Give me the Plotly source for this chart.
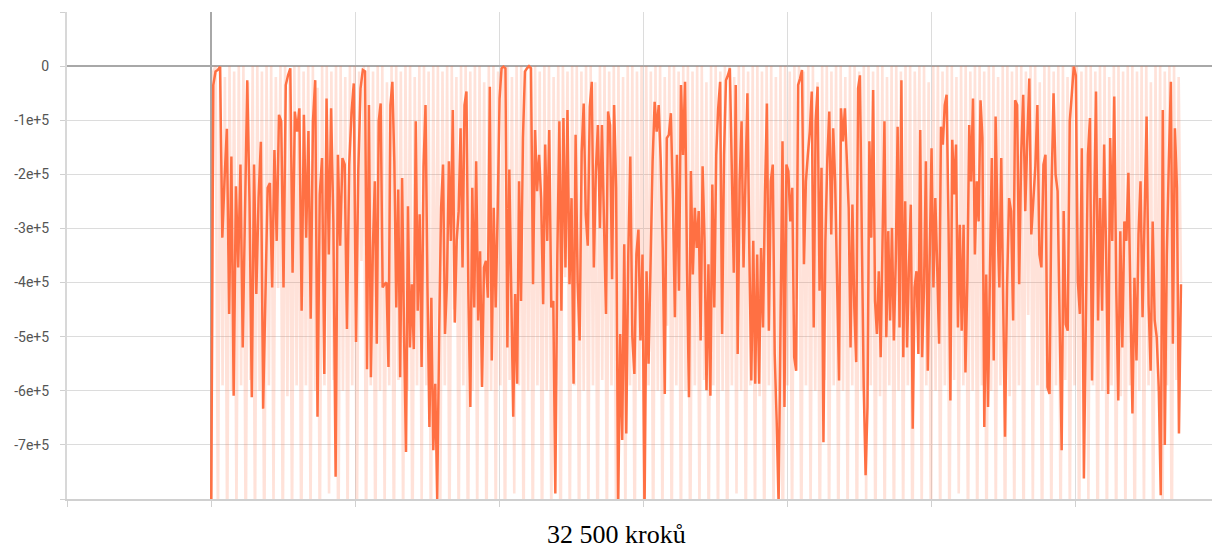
import numpy as np
import plotly.graph_objects as go

# Values in units of 1e5 (reward)
# Smoothed line, split in six consecutive step ranges
segment_edges = [0, 5350, 10900, 16460, 22010, 27570, 33680]

smooth_r1 = [-9.0, -0.35, -0.1, -0.07, -0.01, -3.17, -2.07, -1.16, -4.58, -1.67, -6.09, -2.22, -3.72, -1.82, -5.2,
             -2.25, -0.26, -2.5, -6.12, -1.82, -4.21, -2.44, -1.4, -6.33, -4.2, -2.25, -2.16, -4.09, -1.55, -3.23,
             -0.9, -1.02, -4.09, -0.35, -0.17, -0.04, -3.82, -0.84, -1.21, -0.78, -4.52, -0.9, -3.17, -1.2, -4.67,
             -1.02, -0.26, -6.48, -2.37, -1.7, -5.69, -0.6, -3.48, -0.78, -2.87, -7.59, -1.64, -3.32, -1.7, -1.82,
             -4.86, -1.82, -0.87, -0.32, -5.1, -1.94, -0.41, -0.07]
smooth_r2 = [-0.1, -5.6, -0.72, -5.75, -3.36, -2.13, -5.13, -1.02, -0.69, -4.09, -4.03, -4.0, -5.56, -0.72, -0.29,
             -1.76, -4.46, -2.28, -5.75, -2.07, -4.95, -7.13, -2.59, -5.2, -4.03, -5.23, -1.02, -4.52, -2.74, -5.56,
             -1.85, -0.72, -4.09, -6.67, -4.28, -7.1, -5.87, -8.0, -4.95, -2.62, -1.82, -4.95, -4.0, -1.76, -3.23,
             -0.81, -4.74, -3.23, -2.68, -1.15, -3.72, -0.72, -0.47, -4.21, -6.3, -2.25, -4.46, -1.76, -4.7, -3.42,
             -5.93, -3.72, -3.6, -4.28, -0.38, -5.44, -2.62, -4.46, -2.74, -0.6, -0.04, -0.01, -0.04, -5.2, -1.91,
             -3.97, -6.48, -4.21, -5.87, -2.13, -4.34, -1.33]
smooth_r3 = [-0.1, -0.04, 0.0, -0.04, -4.03, -1.18, -2.31, -1.64, -2.44, -4.4, -1.45, -3.23, -1.18, -4.46, -4.34,
             -7.9, -3.48, -1.02, -4.52, -0.96, -3.72, -0.81, -4.03, -2.44, -5.87, -1.27, -3.97, -5.07, -1.58, -0.69,
             -2.74, -3.32, -0.75, -0.29, -3.72, -1.94, -1.09, -2.99, -1.09, -2.87, -4.58, -0.84, -1.09, -3.94, -0.72,
             -2.25, -8.2, -4.95, -6.91, -3.29, -6.79, -3.48, -1.67, -5.01, -5.69, -3.48, -3.02, -5.07, -3.48, -8.3,
             -3.79, -5.5, -3.36, -1.76, -0.66, -1.21, -0.72, -1.76, -3.36, -6.06, -1.33, -1.27, -0.87, -2.44, -4.64,
             -1.64, -4.15, -0.35, -1.64]
smooth_r4 = [-0.29, -3.72, -6.12, -1.94, -3.85, -2.62, -3.36, -2.68, -5.07, -1.85, -3.23, -5.99, -3.66, -6.09, -2.19,
             -4.46, -1.64, -0.78, -0.29, -4.95, -1.64, -0.26, -0.17, -0.04, -2.0, -3.82, -0.35, -5.32, -2.13, -1.02,
             -3.72, -1.76, -0.5, -3.48, -5.81, -3.23, -5.87, -3.48, -5.87, -3.36, -4.83, -2.37, -0.69, -4.89, -2.13,
             -1.82, -5.32, -6.55, -8.1, -4.7, -1.39, -6.3, -1.82, -1.94, -2.87, -2.25, -5.38, -5.63, -0.35, -0.23,
             -0.07, -3.66, -2.13, -1.64, -1.21, -0.47, -4.83, -1.02, -0.38, -4.15, -1.88, -6.95, -3.23, -1.7, -0.84,
             -3.11, -1.15, -2.13, -3.97, -5.81, -0.78, -1.39]
smooth_r5 = [-0.78, -1.64, -2.62, -5.2, -2.56, -4.46, -5.47, -0.41, -0.17, -3.17, -5.93, -7.56, -6.3, -1.39, -3.17,
             -0.44, -4.34, -4.95, -3.79, -5.38, -2.99, -1.02, -5.01, -3.05, -4.7, -2.99, -5.07, -3.6, -1.12, -4.83,
             -0.26, -5.38, -2.5, -5.2, -3.72, -2.56, -6.7, -4.09, -3.79, -5.32, -1.18, -5.38, -4.09, -1.76, -5.63,
             -3.54, -1.52, -4.09, -2.44, -3.72, -5.13, -1.12, -1.45, -0.72, -0.53, -2.87, -6.18, -1.36, -2.37, -1.45,
             -4.83, -2.93, -4.89, -2.93, -5.66, -3.97, -1.09, -2.13, -0.6, -3.48, -2.13, -2.87, -0.63, -1.33, -6.67,
             -3.85, -6.3, -3.79, -1.7, -5.44, -0.93, -2.87, -4.09, -1.7, -4.7]
smooth_r6 = [-6.85, -4.09, -2.44, -2.68, -4.7, -0.63, -0.72, -4.03, -1.64, -0.53, -2.68, -1.39, -0.23, -3.11, -2.44,
             -1.85, -0.72, -3.48, -3.72, -1.82, -1.64, -5.93, -6.06, -2.25, -0.5, -2.0, -2.31, -4.77, -7.1, -2.68,
             -4.77, -4.89, -1.02, -0.53, -0.01, -0.17, -3.97, -4.58, -1.52, -7.62, -4.34, -1.64, -0.96, -5.81, -2.8,
             -0.47, -4.7, -2.44, -4.52, -1.45, -3.48, -6.06, -1.33, -3.23, -0.56, -4.09, -6.18, -3.05, -5.2, -2.87,
             -3.23, -1.97, -4.28, -6.42, -3.91, -5.44, -3.11, -2.13, -4.64, -2.56, -0.93, -4.4, -5.63, -2.87, -4.7,
             -5.01, -5.93, -7.93, -0.81, -7.0, -3.48, -1.76, -0.29, -5.13, -1.15, -2.25, -6.79, -4.03]

# Raw (unsmoothed) values, units of 1e5
raw_e5 = [
    -9.5, -0.1, 0.0, -8.6, 0.0, -5.9, -0.2, -9.0, 0.0, -6.0, -0.1, -8.3, 0.0, -5.9, 0.0, -9.2, -0.3, -5.8, 0.0, -8.8,
    0.0, -6.0, -0.1, -9.4, 0.0, -5.9, 0.0, -8.1, -0.2, -4.1, 0.0, -9.0, 0.0, -6.1, -0.1, -8.7, 0.0, -5.9, 0.0, -9.3,
    -0.1, -5.9, 0.0, -8.4, 0.0, -6.0, -0.4, -9.1, 0.0, -5.9, 0.0, -7.9, -0.1, -5.8, 0.0, -9.6, 0.0, -6.0, -0.2, -8.5,
    0.0, -5.9, 0.0, -9.0, -0.1, -3.6, 0.0, -8.9, 0.0, -5.9, -0.1, -9.3, 0.0, -6.0, 0.0, -8.2, -0.3, -5.9, 0.0, -9.1,
    0.0, -5.8, -0.1, -8.6, 0.0, -6.0, 0.0, -9.4, -0.2, -5.9, 0.0, -8.0, 0.0, -5.9, -0.1, -9.2, 0.0, -6.1, 0.0, -8.7,
    -0.1, -5.9, 0.0, -9.0, 0.0, -4.5, -0.2, -8.8, 0.0, -5.9, 0.0, -9.5, -0.1, -6.0, 0.0, -8.3, 0.0, -5.9, -0.3, -9.1,
    0.0, -6.0, 0.0, -8.6, -0.1, -5.9, 0.0, -9.3, 0.0, -5.8, -0.2, -7.9, 0.0, -5.9, 0.0, -9.0, -0.1, -6.0, 0.0, -8.9,
    0.0, -5.9, -0.1, -9.2, 0.0, -6.0, 0.0, -8.4, -0.2, -5.9, 0.0, -9.6, 0.0, -3.9, -0.1, -8.7, 0.0, -5.9, 0.0, -9.1,
    -0.1, -6.0, 0.0, -8.2, 0.0, -5.9, -0.3, -9.4, 0.0, -5.8, 0.0, -8.8, -0.1, -5.9, 0.0, -9.0, 0.0, -6.1, -0.2, -8.5,
    0.0, -5.9, 0.0, -9.3, -0.1, -6.0, 0.0, -8.0, 0.0, -5.9, -0.1, -9.2, 0.0, -6.0, 0.0, -8.6, -0.2, -4.8, 0.0, -9.0,
    0.0, -5.9, -0.1, -8.9, 0.0, -6.0, 0.0, -9.5, -0.1, -5.9, 0.0, -8.3, 0.0, -5.8, -0.3, -9.1, 0.0, -5.9, 0.0, -8.7,
    -0.1, -6.0, 0.0, -9.4, 0.0, -5.9, -0.2, -7.9, 0.0, -6.0, 0.0, -9.0, -0.1, -5.9, 0.0, -8.6, 0.0, -6.1, -0.1, -9.2,
    0.0, -5.9, 0.0, -8.4, -0.2, -6.0, 0.0, -9.6, 0.0, -5.9, -0.1, -8.8, 0.0, -4.3, 0.0, -9.1, -0.1, -5.9, 0.0, -8.2,
    0.0, -6.0, -0.3, -9.3, 0.0, -5.8, 0.0, -8.7, -0.1, -5.9, 0.0, -9.0, 0.0, -6.0, -0.2, -8.5, 0.0, -5.9, 0.0, -9.4,
    -0.1, -6.0, 0.0, -8.0, 0.0, -5.9, -0.1, -9.2, 0.0, -6.1, 0.0, -8.9, -0.2, -5.9, 0.0, -9.0, 0.0, -6.0, -0.1, -8.6,
    0.0, -5.9, 0.0, -9.5, -0.1, -3.8, 0.0, -8.3, 0.0, -5.9, -0.3, -9.1, 0.0, -6.0, 0.0, -8.7, -0.1, -5.9, 0.0, -9.3,
    0.0, -5.8, -0.2, -7.9, 0.0, -5.9, 0.0, -9.0, -0.1, -6.0, 0.0, -8.8, 0.0, -5.9, -0.1, -9.2, 0.0, -6.0, 0.0, -8.4,
    -0.2, -5.9, 0.0, -9.6, 0.0, -6.1, -0.1, -8.6, 0.0, -5.9, 0.0, -9.1, -0.1, -4.6, 0.0, -8.2, 0.0, -5.9, -0.3, -9.4,
    0.0, -6.0, 0.0, -8.7, -0.1, -5.9, 0.0, -9.0, 0.0, -5.8, -0.2, -8.5, 0.0, -5.9, 0.0, -9.3, -0.1, -6.0, 0.0, -8.0,
    0.0, -5.9, -0.1, -9.2, 0.0, -6.0, 0.0, -8.9, -0.2, -5.9, 0.0, -9.0, 0.0, -6.1, -0.1, -8.6, 0.0, -5.9, 0.0, -9.5,
    -0.1, -6.0, 0.0, -8.3, 0.0, -5.9, -0.3, -9.1, 0.0, -6.0, 0.0, -8.7, -0.1, -5.9, 0.0, -9.3, 0.0, -5.8, -0.2, -4.0,
]

y_tick_vals = [1e5, 0, -1e5, -2e5, -3e5, -4e5, -5e5, -6e5, -7e5, -8e5]
y_tick_text = ["", "0", "-1e+5", "-2e+5", "-3e+5", "-4e+5", "-5e+5", "-6e+5", "-7e+5", ""]
x_label = "32 500 kroků"

# ---- build traces ----
smooth_segments = [smooth_r1, smooth_r2, smooth_r3, smooth_r4, smooth_r5, smooth_r6]
sx, sy = [], []
for i, seg in enumerate(smooth_segments):
    last = i == len(smooth_segments) - 1
    xs = np.linspace(segment_edges[i], segment_edges[i + 1], len(seg), endpoint=last)
    sx.extend(xs.tolist())
    sy.extend([v * 1e5 for v in seg])

rx = np.linspace(segment_edges[0], segment_edges[-1], len(raw_e5)).tolist()
ry = [v * 1e5 for v in raw_e5]

ORANGE = "#ff7043"

fig = go.Figure()
fig.add_trace(go.Scatter(x=rx, y=ry, mode="lines",
                         line=dict(color="rgba(255,112,67,0.2)", width=2.6),
                         hoverinfo="skip", showlegend=False))
fig.add_trace(go.Scatter(x=sx, y=sy, mode="lines",
                         line=dict(color=ORANGE, width=2.5),
                         showlegend=False))

fig.update_layout(
    width=1212, height=550,
    margin=dict(l=67, r=0, t=12, b=51),
    paper_bgcolor="white", plot_bgcolor="white",
    font=dict(family="Roboto, sans-serif", size=14, color="#555555"),
    xaxis=dict(range=[-5000, 34757], tick0=0, dtick=5000, showticklabels=False,
               showgrid=True, gridcolor="#dcdcdc", gridwidth=1,
               zeroline=True, zerolinecolor="#a8a8a8", zerolinewidth=2,
               showline=True, linecolor="#d0d0d0", linewidth=2,
               ticks="outside", ticklen=6, tickcolor="#d0d0d0", tickwidth=1),
    yaxis=dict(range=[-8e5, 1e5], tickvals=y_tick_vals, ticktext=y_tick_text,
               showgrid=True, gridcolor="#dcdcdc", gridwidth=1,
               zeroline=True, zerolinecolor="#a8a8a8", zerolinewidth=2,
               showline=True, linecolor="#d8d8d8", linewidth=2,
               ticks="outside", ticklen=5, tickcolor="#d0d0d0", tickwidth=1,
               ticklabelstandoff=8),
    annotations=[dict(text=x_label, xref="paper", yref="paper", x=0.4803, y=-0.0719,
                      xanchor="center", yanchor="middle", showarrow=False, borderpad=0,
                      font=dict(family="Liberation Serif, serif", size=26, color="#000000"))],
)

fig.write_html("out.html", config={"displayModeBar": False},
               post_script="document.body.style.margin='0px';document.body.style.padding='0px';")
